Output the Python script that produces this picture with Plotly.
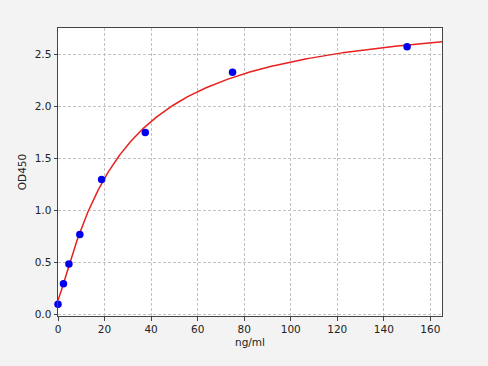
import numpy as np
import plotly.graph_objects as go

# Data
conc = [0, 2.34, 4.69, 9.375, 18.75, 37.5, 75, 150]
od = [0.10, 0.295, 0.485, 0.77, 1.30, 1.75, 2.33, 2.575]
curve_at_zero = 0.137  # fitted curve value at 0 ng/ml
x_ticks = [0, 20, 40, 60, 80, 100, 120, 140, 160]
y_ticks = [0.0, 0.5, 1.0, 1.5, 2.0, 2.5]
y_tick_text = ["0.0", "0.5", "1.0", "1.5", "2.0", "2.5"]


def four_pl(x, a, q):
    b, c, d = q
    x = np.asarray(x, dtype=float)
    return d + (a - d) / (1.0 + np.power(np.abs(x) / c, b))


def fit_4pl(x, y, a):
    x = np.asarray(x, float)
    y = np.asarray(y, float)
    q = np.array([1.0, 30.0, 3.0])
    lam = 1e-2
    for _ in range(500):
        r = y - four_pl(x, a, q)
        J = np.zeros((len(x), 3))
        for i in range(3):
            dq = np.zeros(3)
            h = 1e-6 * max(1.0, abs(q[i]))
            dq[i] = h
            J[:, i] = (four_pl(x, a, q + dq) - four_pl(x, a, q - dq)) / (2 * h)
        A = J.T @ J
        g = J.T @ r
        step = np.linalg.solve(A + lam * np.diag(np.diag(A)), g)
        qn = q + step
        if qn[1] > 0 and np.sum((y - four_pl(x, a, qn)) ** 2) < np.sum(r ** 2):
            q = qn
            lam *= 0.5
        else:
            lam *= 4
    return q


q = fit_4pl(conc[1:], od[1:], curve_at_zero)
xs = np.linspace(0, 165, 600)
ys = four_pl(xs, curve_at_zero, q)

fig = go.Figure()
fig.add_trace(go.Scatter(x=xs, y=ys, mode="lines",
                         line=dict(color="#e8201e", width=1.5),
                         hoverinfo="skip", showlegend=False))
fig.add_trace(go.Scatter(x=conc, y=od, mode="markers",
                         marker=dict(color="#0000ee", size=7.5),
                         cliponaxis=False, showlegend=False))

axis_common = dict(
    showline=True, mirror=True, linecolor="#444444", linewidth=1,
    ticks="outside", ticklen=3.5, tickcolor="#444444", tickwidth=1,
    showgrid=True, gridcolor="#c2c2c2", gridwidth=0.8, griddash="3px,2px",
    zeroline=False, tickfont=dict(size=10.5, color="#222222"),
    automargin=False,
)

fig.update_xaxes(range=[0, 165], tickvals=x_ticks,
                 title=dict(text="ng/ml", font=dict(size=10.5, color="#222222"), standoff=4),
                 **axis_common)
fig.update_yaxes(range=[-0.014, 2.756], tickvals=y_ticks, ticktext=y_tick_text,
                 title=dict(text="OD450", font=dict(size=10.5, color="#222222"), standoff=6),
                 **axis_common)

fig.update_layout(
    width=488, height=366,
    margin=dict(l=57.5, r=46, t=28, b=50),
    paper_bgcolor="#f3f3f3", plot_bgcolor="#ffffff",
    font=dict(family="DejaVu Sans", size=10.5, color="#222222"),
    showlegend=False,
)

fig.write_html(
    "out.html",
    config={"displayModeBar": False},
    post_script="document.body.style.margin='0';document.body.style.overflow='hidden';",
)
